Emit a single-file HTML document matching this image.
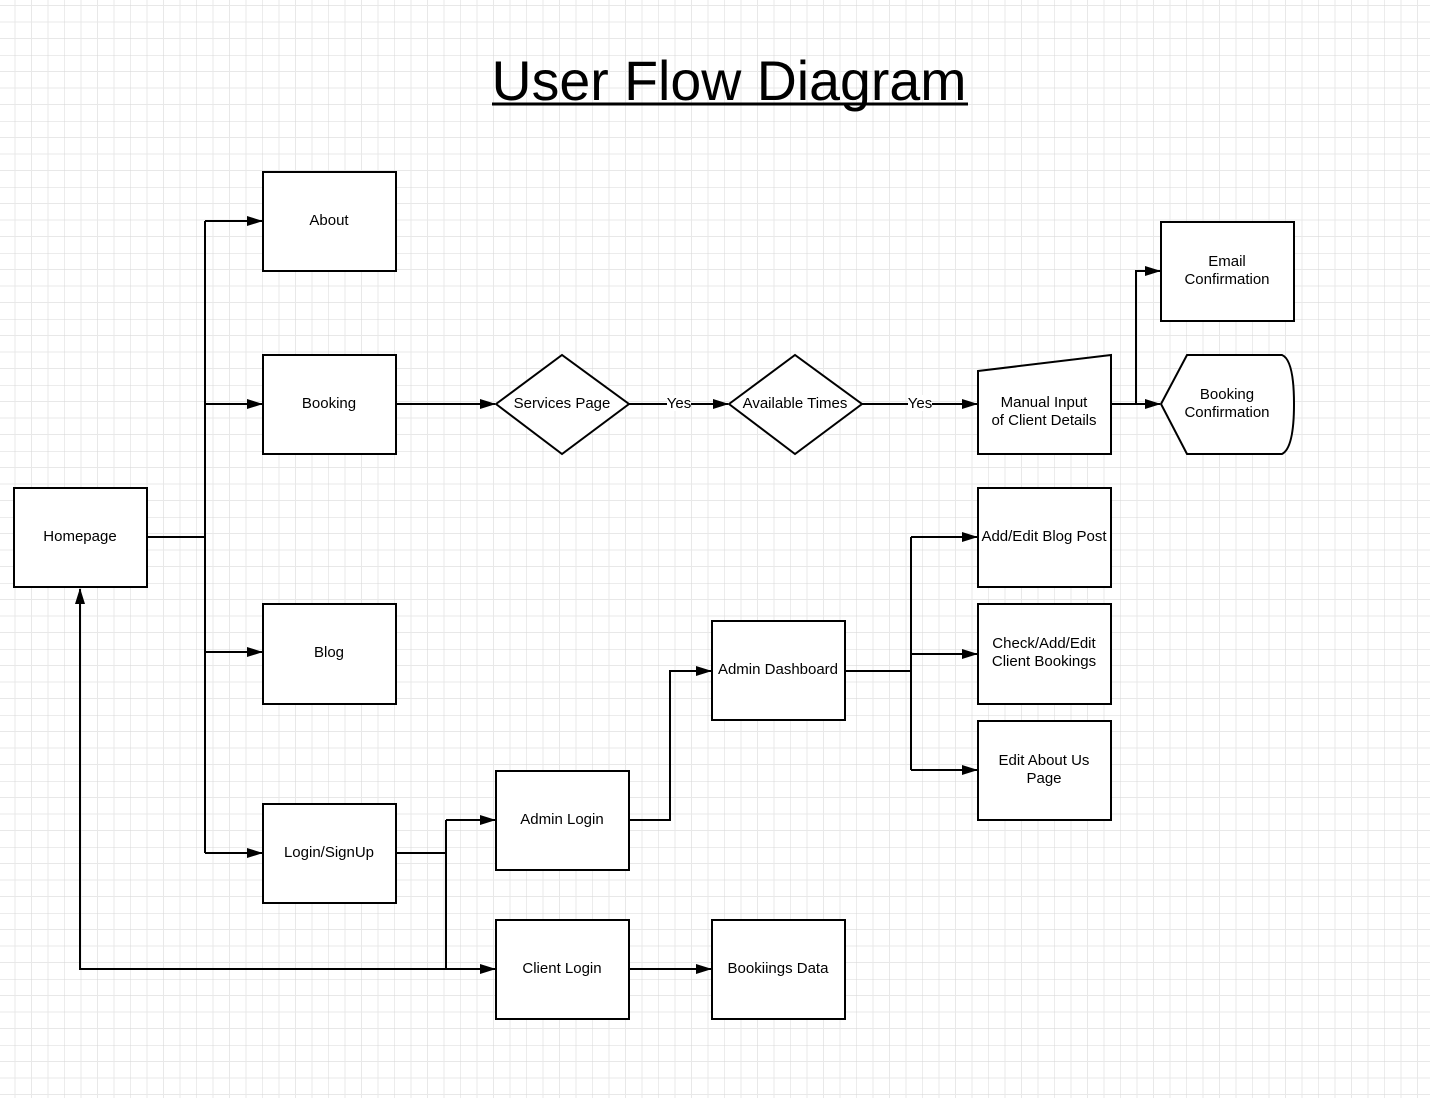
<!DOCTYPE html>
<html><head><meta charset="utf-8"><style>
html,body{margin:0;padding:0;background:#fff}
svg{display:block}
text{font-family:"Liberation Sans",Arial,sans-serif;font-size:15px;fill:#000}
</style></head><body>
<svg width="1430" height="1098" xmlns="http://www.w3.org/2000/svg">
<defs>
<pattern id="g" width="66" height="66" patternUnits="userSpaceOnUse" patternTransform="translate(-1.5,-11)">
<path d="M16.5 0V66M33 0V66M49.5 0V66M0 16.5H66M0 33H66M0 49.5H66" stroke="#e8e8e8" stroke-width="1" fill="none"/>
<path d="M0 0V66M0 0H66" stroke="#d8d8d8" stroke-width="1" fill="none"/>
</pattern>
<marker id="a" markerWidth="16" markerHeight="10" refX="15" refY="5" orient="auto" markerUnits="userSpaceOnUse"><path d="M0 0L16 5L0 10Z" fill="#000"/></marker>
</defs>
<rect width="1430" height="1098" fill="url(#g)"/>
<text x="729" y="100" text-anchor="middle" style="font-size:55.5px">User Flow Diagram</text>
<line x1="492" y1="104" x2="968" y2="104" stroke="#000" stroke-width="3"/>
<g fill="#fff" stroke="#000" stroke-width="2">
<rect x="263" y="172" width="133" height="99"/>
<rect x="263" y="355" width="133" height="99"/>
<rect x="263" y="604" width="133" height="100"/>
<rect x="263" y="804" width="133" height="99"/>
<rect x="14" y="488" width="133" height="99"/>
<path d="M496 404L562 355L629 404L562 454Z"/>
<path d="M729 404L795 355L862 404L795 454Z"/>
<path d="M978 371L1111 355V454H978Z"/>
<rect x="1161" y="222" width="133" height="99"/>
<path d="M1161 404L1187 355H1282Q1294 360 1294 404Q1294 448 1282 454H1187Z"/>
<rect x="978" y="488" width="133" height="99"/>
<rect x="978" y="604" width="133" height="100"/>
<rect x="978" y="721" width="133" height="99"/>
<rect x="712" y="621" width="133" height="99"/>
<rect x="496" y="771" width="133" height="99"/>
<rect x="496" y="920" width="133" height="99"/>
<rect x="712" y="920" width="133" height="99"/>
</g>
<g fill="none" stroke="#000" stroke-width="2">
<path d="M147 537H205M205 221V853"/>
<path d="M205 221H262" marker-end="url(#a)"/>
<path d="M205 404H262" marker-end="url(#a)"/>
<path d="M205 652H262" marker-end="url(#a)"/>
<path d="M205 853H262" marker-end="url(#a)"/>
<path d="M396 404H495" marker-end="url(#a)"/>
<path d="M629 404H728" marker-end="url(#a)"/>
<path d="M862 404H977" marker-end="url(#a)"/>
<path d="M1111 404H1160" marker-end="url(#a)"/>
<path d="M1136 404V271H1160" marker-end="url(#a)"/>
<path d="M396 853H446M446 820V969"/>
<path d="M446 820H495" marker-end="url(#a)"/>
<path d="M446 969H495" marker-end="url(#a)"/>
<path d="M446 969H80V589" marker-end="url(#a)"/>
<path d="M629 820H670V671H711" marker-end="url(#a)"/>
<path d="M845 671H911M911 537V770"/>
<path d="M911 537H977" marker-end="url(#a)"/>
<path d="M911 654H977" marker-end="url(#a)"/>
<path d="M911 770H977" marker-end="url(#a)"/>
<path d="M629 969H711" marker-end="url(#a)"/>
</g>
<rect x="667" y="395" width="24" height="16" fill="#fff"/>
<rect x="908" y="395" width="24" height="16" fill="#fff"/>
<g text-anchor="middle">
<text x="679" y="408">Yes</text>
<text x="920" y="408">Yes</text>
<text x="329" y="225">About</text>
<text x="329" y="408">Booking</text>
<text x="329" y="657">Blog</text>
<text x="329" y="857">Login/SignUp</text>
<text x="80" y="541">Homepage</text>
<text x="562" y="408">Services Page</text>
<text x="795" y="408">Available Times</text>
<text x="1044" y="407">Manual Input</text>
<text x="1044" y="425">of Client Details</text>
<text x="1227" y="266">Email</text>
<text x="1227" y="284">Confirmation</text>
<text x="1227" y="399">Booking</text>
<text x="1227" y="417">Confirmation</text>
<text x="1044" y="541">Add/Edit Blog Post</text>
<text x="1044" y="648">Check/Add/Edit</text>
<text x="1044" y="666">Client Bookings</text>
<text x="1044" y="765">Edit About Us</text>
<text x="1044" y="783">Page</text>
<text x="778" y="674">Admin Dashboard</text>
<text x="562" y="824">Admin Login</text>
<text x="562" y="973">Client Login</text>
<text x="778" y="973">Bookiings Data</text>
</g>
</svg>
</body></html>
